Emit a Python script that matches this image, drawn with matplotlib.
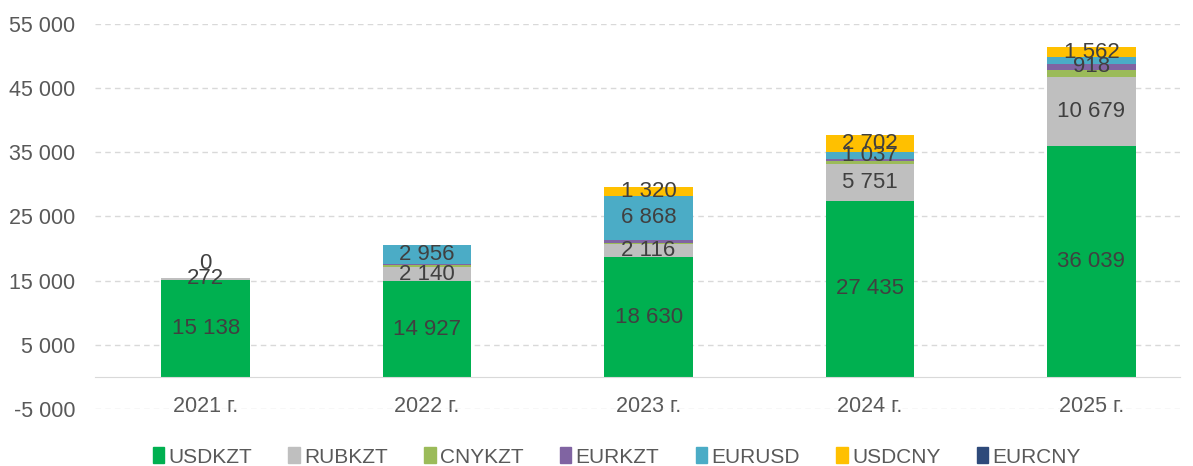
import matplotlib.pyplot as plt
import numpy as np
from matplotlib.patches import Patch

plt.rcParams['font.family'] = ['Liberation Sans', 'DejaVu Sans']

years = ["2021 г.", "2022 г.", "2023 г.", "2024 г.", "2025 г."]
series = ["USDKZT", "RUBKZT", "CNYKZT", "EURKZT", "EURUSD", "USDCNY", "EURCNY"]

usdkzt = [15138, 14927, 18630, 27435, 36039]
rubkzt = [272, 2140, 2116, 5751, 10679]
cnykzt = [30, 450, 200, 420, 1150]
eurkzt = [10, 150, 420, 420, 918]
eurusd = [0, 2956, 6868, 1037, 1000]
usdcny = [0, 0, 1320, 2702, 1562]
eurcny = [0, 0, 0, 0, 0]

# which data labels are shown on the chart
show_usdkzt = [1, 1, 1, 1, 1]
show_rubkzt = [1, 1, 1, 1, 1]
show_cnykzt = [0, 0, 0, 0, 0]
show_eurkzt = [0, 0, 0, 0, 1]
show_eurusd = [0, 1, 1, 1, 0]
show_usdcny = [1, 0, 1, 1, 1]
show_eurcny = [0, 0, 0, 0, 0]

colors = ["#00B050", "#BFBFBF", "#9BBB59", "#8064A2", "#4BACC6", "#FFC000", "#2E4A7A"]

data = [usdkzt, rubkzt, cnykzt, eurkzt, eurusd, usdcny, eurcny]
shows = [show_usdkzt, show_rubkzt, show_cnykzt, show_eurkzt, show_eurusd, show_usdcny, show_eurcny]


def fmt(v):
    return "{:,}".format(int(v)).replace(",", " ")


fig = plt.figure(figsize=(11.93, 4.66), dpi=100)
ax = fig.add_axes([95 / 1193, 1 - 409 / 466, 1085 / 1193, 385 / 466])

x = np.arange(len(years))
width = 0.4
bottom = np.zeros(len(years))
for vals, col, show in zip(data, colors, shows):
    vals = np.array(vals, dtype=float)
    ax.bar(x, vals, width=width, bottom=bottom, color=col, zorder=3)
    for i in range(len(years)):
        if show[i]:
            if vals[i] == 0:
                yy = bottom[i] + 2300
            else:
                yy = bottom[i] + vals[i] / 2
            ax.text(x[i], yy, fmt(vals[i]), ha="center", va="center",
                    fontsize=16, color="#404040", zorder=5)
    bottom += vals

ax.set_ylim(-5000, 55000)
ax.set_xlim(-0.5, 4.4)
ax.set_yticks(np.arange(-5000, 55001, 10000))
ax.set_yticklabels([fmt(v) for v in np.arange(-5000, 55001, 10000)])
ax.tick_params(axis="y", length=0, labelsize=15.5, labelcolor="#595959", pad=14)
ax.grid(axis="y", color="#D9D9D9", linestyle=(0, (4, 3)), linewidth=1, zorder=0)

ax.set_xticks(x)
ax.set_xticklabels(years)
ax.tick_params(axis="x", length=0, labelsize=15.5, labelcolor="#595959", pad=14)
for s in ["top", "right", "left"]:
    ax.spines[s].set_visible(False)
ax.spines["bottom"].set_position(("data", 0))
ax.spines["bottom"].set_color("#D9D9D9")
ax.spines["bottom"].set_zorder(4)

handles = [Patch(color=c, label=s) for s, c in zip(series, colors)]
fig.legend(handles=handles, loc="center", bbox_to_anchor=(0.517, 1 - 457 / 466),
           ncol=7, frameon=False, fontsize=15, handlelength=0.55, handleheight=0.8,
           handletextpad=0.2, columnspacing=1.75, labelcolor="#595959")

fig.savefig("out.png", dpi=100)
